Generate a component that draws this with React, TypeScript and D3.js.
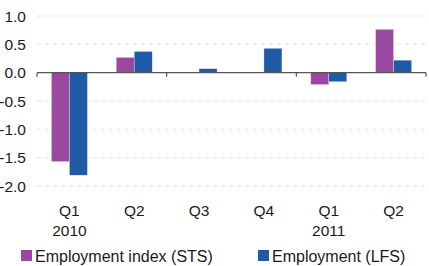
import React from "react";
import * as d3 from "d3";

const categories = ["Q1", "Q2", "Q3", "Q4", "Q1", "Q2"];
const years = ["2010", "", "", "", "2011", ""];
const stsValues = [-1.57, 0.27, 0, 0, -0.21, 0.765];
const lfsValues = [-1.81, 0.375, 0.07, 0.43, -0.16, 0.22];
const yTicks = [1.0, 0.5, 0.0, -0.5, -1.0, -1.5, -2.0];
const seriesNames = ["Employment index (STS)", "Employment (LFS)"];
const colors = ["#9a48a0", "#1f5aa6"];

const W = 429;
const H = 266;
const margin = { left: 37, right: 3, top: 16, bottom: 80 };

export default function App() {
  const x = d3
    .scaleBand<number>()
    .domain(d3.range(categories.length))
    .range([margin.left, W - margin.right]);
  const y = d3.scaleLinear().domain([-2, 1]).range([186, 16]);
  const barW = 18;
  const font = "'Liberation Sans', Arial, sans-serif";
  const series = [stsValues, lfsValues];

  return (
    <svg
      width={W}
      height={H}
      style={{ position: "absolute", left: 0, top: 0, background: "#fff" }}
      fontFamily={font}
    >
      {yTicks.map((t) => (
        <g key={t}>
          {t !== 0 && (
            <line
              x1={margin.left}
              x2={W - margin.right}
              y1={y(t)}
              y2={y(t)}
              stroke="#e2e2e2"
              strokeDasharray="4,4"
            />
          )}
          <text
            x={26}
            y={y(t)}
            textAnchor="end"
            dominantBaseline="central"
            fontSize={15.5}
            fill="#1a1a1a"
          >
            {t.toFixed(1)}
          </text>
        </g>
      ))}
      {series.map((vals, si) =>
        vals.map((v, i) => {
          if (v === 0) return null;
          const cx = x(i)! + x.bandwidth() / 2;
          const bx = cx - barW + si * barW;
          return (
            <rect
              key={`${si}-${i}`}
              x={bx}
              y={Math.min(y(v), y(0))}
              width={barW}
              height={Math.abs(y(v) - y(0))}
              fill={colors[si]}
              stroke="#fff"
              strokeOpacity={0.5}
              strokeWidth={0.6}
            />
          );
        })
      )}
      <line
        x1={margin.left}
        x2={W - margin.right}
        y1={y(0)}
        y2={y(0)}
        stroke="#555"
        strokeWidth={1.2}
      />
      {[0, 2, 4, 6].map((k) => {
        const tx = margin.left + k * x.step();
        return (
          <line key={k} x1={tx} x2={tx} y1={y(0)} y2={y(0) + 4} stroke="#555" strokeWidth={1.2} />
        );
      })}
      {categories.map((c, i) => {
        const cx = x(i)! + x.bandwidth() / 2;
        return (
          <g key={i}>
            <text x={cx} y={210} textAnchor="middle" dominantBaseline="central" fontSize={15.5} fill="#1a1a1a">
              {c}
            </text>
            {years[i] && (
              <text x={cx} y={230} textAnchor="middle" dominantBaseline="central" fontSize={15.5} fill="#1a1a1a">
                {years[i]}
              </text>
            )}
          </g>
        );
      })}
      {seriesNames.map((name, si) => {
        const lx = si === 0 ? 21 : 258;
        return (
          <g key={name}>
            <rect x={lx} y={250} width={11} height={11} fill={colors[si]} />
            <text x={lx + 14} y={256} dominantBaseline="central" fontSize={16} fill="#1a1a1a">
              {name}
            </text>
          </g>
        );
      })}
    </svg>
  );
}
